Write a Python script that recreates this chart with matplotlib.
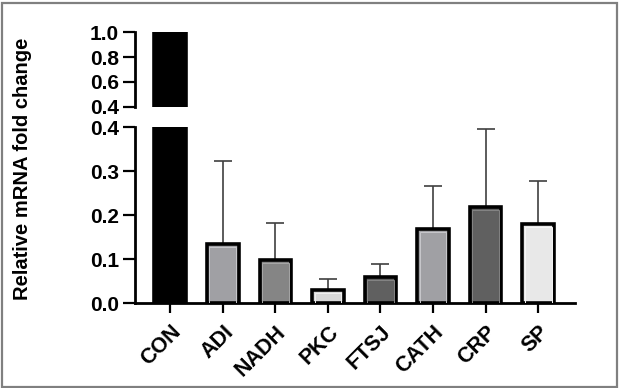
import matplotlib
matplotlib.use("Agg")
import matplotlib.pyplot as plt
from matplotlib.patches import Rectangle
import numpy as np

plt.rcParams['font.family'] = ['Liberation Sans', 'DejaVu Sans']
plt.rcParams['font.weight'] = 'bold'

categories = ["CON", "ADI", "NADH", "PKC", "FTSJ", "CATH", "CRP", "SP"]
values = [1.0, 0.134, 0.098, 0.030, 0.059, 0.168, 0.218, 0.180]
err_upper = [0.0, 0.189, 0.085, 0.025, 0.031, 0.099, 0.178, 0.099]
colors = ["#000000", "#a0a0a4", "#858585", "#d8d8d8", "#606060", "#a0a0a4", "#606060", "#e8e8e8"]
inner_colors = ["#000000", "#c8c8cc", "#a8a8a8", "#f0f0f0", "#858585", "#c8c8cc", "#858585", "#f8f8f8"]
low_ticks = [0.0, 0.1, 0.2, 0.3, 0.4]
high_ticks = [0.4, 0.6, 0.8, 1.0]

W, H = 619, 388
fig = plt.figure(figsize=(W / 100, H / 100), dpi=100)

def px_axes(left, top, right, bottom):
    return fig.add_axes([left / W, 1 - bottom / H, (right - left) / W, (bottom - top) / H])

ax_hi = px_axes(135, 32.3, 575, 106.7)
ax_lo = px_axes(135, 127.3, 575, 303.3)

x = np.arange(len(categories))
bw = 0.6
ax_lo.errorbar(x, values, yerr=[np.zeros(len(values)), err_upper], fmt='none',
               ecolor='#404040', elinewidth=1.2, capsize=6.5, capthick=1.2, zorder=1)
for ax in (ax_hi, ax_lo):
    ax.bar(x, values, width=bw, color=colors, edgecolor='black', linewidth=2.6, zorder=2)
    # thin light inner outline
    for xi, v, ic in zip(x, values, inner_colors):
        if v < 1.0:
            ax.add_patch(Rectangle((xi - bw / 2 + 0.045, 0.0), bw - 0.09, v - 0.006,
                                   fill=False, edgecolor=ic, linewidth=0.7, zorder=3))
    ax.set_xlim(-0.67, 7.7)
    for s in ('top', 'right'):
        ax.spines[s].set_visible(False)
    ax.spines['left'].set_linewidth(2)
    ax.tick_params(axis='y', length=8.5, width=1.6, pad=3, labelsize=15)

ax_hi.set_ylim(0.4, 1.0)
ax_hi.set_yticks(high_ticks)
ax_hi.set_yticklabels([f"{t:.1f}" for t in high_ticks])
ax_hi.spines['bottom'].set_visible(False)
ax_hi.set_xticks([])

ax_lo.set_ylim(0.0, 0.4)
ax_lo.set_yticks(low_ticks)
ax_lo.set_yticklabels([f"{t:.1f}" for t in low_ticks])
ax_lo.spines['bottom'].set_linewidth(2)
ax_lo.set_xticks(x)
ax_lo.set_xticklabels(categories, rotation=45, ha='right', va='top', rotation_mode='anchor',
                      fontsize=15.5, fontweight='bold')
ax_lo.tick_params(axis='x', length=7, width=1.6, pad=6)

for ax in (ax_hi, ax_lo):
    for lab in ax.get_yticklabels():
        lab.set_fontweight('bold')

fig.text(23 / W, 1 - 169 / H, "Relative mRNA fold change", rotation=90,
         ha='center', va='center', fontsize=14.5, fontweight='bold')

fig.add_artist(Rectangle((1.5 / W, 1.5 / H), (W - 4) / W, (H - 4) / H, transform=fig.transFigure,
                         fill=False, edgecolor='#808080', linewidth=1.6))

fig.savefig("out.png", dpi=100)
